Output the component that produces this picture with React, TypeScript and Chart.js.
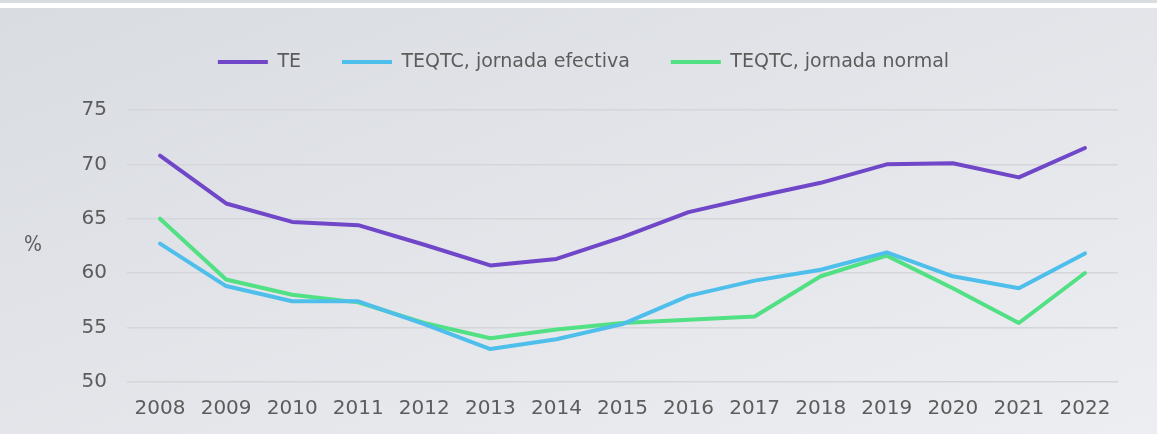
import React, { useEffect, useRef } from "react";
import { Chart, registerables } from "chart.js";

Chart.register(...registerables);

const years = ["2008", "2009", "2010", "2011", "2012", "2013", "2014", "2015", "2016", "2017", "2018", "2019", "2020", "2021", "2022"];
const teValues = [70.8, 66.4, 64.7, 64.4, 62.6, 60.7, 61.3, 63.3, 65.6, 67.0, 68.3, 70.0, 70.1, 68.8, 71.5];
const efectivaValues = [62.7, 58.8, 57.4, 57.4, 55.3, 53.0, 53.9, 55.3, 57.9, 59.3, 60.3, 61.9, 59.7, 58.6, 61.8];
const normalValues = [65.0, 59.4, 58.0, 57.3, 55.4, 54.0, 54.8, 55.4, 55.7, 56.0, 59.7, 61.6, 58.6, 55.4, 60.0];
const seriesLabels = ["TE", "TEQTC, jornada efectiva", "TEQTC, jornada normal"];
const yTicks = [50, 55, 60, 65, 70, 75];
const unitLabel = "%";

const FONT = '"DejaVu Sans", sans-serif';
const TEXT = "#5c5c5c";

export default function App() {
  const ref = useRef<HTMLCanvasElement | null>(null);

  useEffect(() => {
    document.body.style.margin = "0";
    const canvas = ref.current;
    if (!canvas) return;

    const unitPlugin = {
      id: "unitLabel",
      afterDraw(chart: any) {
        const { ctx, chartArea } = chart;
        ctx.save();
        ctx.fillStyle = TEXT;
        ctx.font = '21px "Liberation Sans Narrow", "DejaVu Sans Condensed", "Liberation Sans", sans-serif';
        ctx.textAlign = "center";
        ctx.textBaseline = "middle";
        ctx.fillText(unitLabel, 33, (chartArea.top + chartArea.bottom) / 2);
        ctx.restore();
      },
    };

    const mk = (label: string, data: number[], color: string) => ({
      label,
      data,
      borderColor: color,
      backgroundColor: color,
      borderWidth: 4,
      borderCapStyle: "round" as const,
      borderJoinStyle: "round" as const,
      pointRadius: 0,
      pointHoverRadius: 0,
      pointStyle: "line",
      tension: 0,
      fill: false,
    });

    const chart = new Chart(canvas, {
      type: "line",
      data: {
        labels: years,
        datasets: [
          mk(seriesLabels[0], teValues, "#7047c8"),
          mk(seriesLabels[1], efectivaValues, "#4ebeeb"),
          mk(seriesLabels[2], normalValues, "#52e084"),
        ],
      },
      options: {
        animation: false,
        responsive: false,
        devicePixelRatio: 1,
        layout: { padding: { top: 3.5, left: 49, right: 39, bottom: 0 } },
        plugins: {
          tooltip: { enabled: false },
          legend: {
            position: "top",
            labels: {
              usePointStyle: true,
              pointStyleWidth: 50,
              padding: 41,
              color: TEXT,
              font: { family: FONT, size: 19 },
            },
          },
          subtitle: {
            display: true,
            text: "",
            weight: 500,
            font: { size: 10, lineHeight: 1 },
            padding: { top: 0, bottom: 18.5 },
          } as any,
        },
        scales: {
          x: {
            offset: true,
            grid: { display: false, drawTicks: false },
            border: { display: false },
            ticks: {
              color: TEXT,
              font: { family: FONT, size: 20 },
              padding: 15,
              maxRotation: 0,
              autoSkip: false,
            },
            afterFit(scale: any) {
              scale.height = 52.3;
            },
          },
          y: {
            min: 50,
            max: 75,
            grid: { color: "#d5d6d9", lineWidth: 1.5, drawTicks: false },
            border: { display: false },
            afterBuildTicks(scale: any) {
              scale.ticks = yTicks.map((v) => ({ value: v }));
            },
            ticks: {
              color: TEXT,
              font: { family: FONT, size: 20 },
              padding: 20,
            },
            afterFit(scale: any) {
              scale.width = 78;
            },
          },
        },
      },
      plugins: [unitPlugin],
    });

    return () => chart.destroy();
  }, []);

  return (
    <div style={{ position: "absolute", left: 0, top: 0, width: 1157, height: 434, background: "#ffffff", overflow: "hidden" }}>
      <div style={{ position: "absolute", left: 0, top: 0, width: 1157, height: 3, background: "#d9dde2" }} />
      <div
        style={{
          position: "absolute",
          left: 0,
          top: 8,
          width: 1157,
          height: 426,
          background: "linear-gradient(to bottom right, #d9dce1, #edeef2)",
        }}
      >
        <canvas ref={ref} width={1157} height={426} style={{ display: "block", width: 1157, height: 426 }} />
      </div>
    </div>
  );
}
